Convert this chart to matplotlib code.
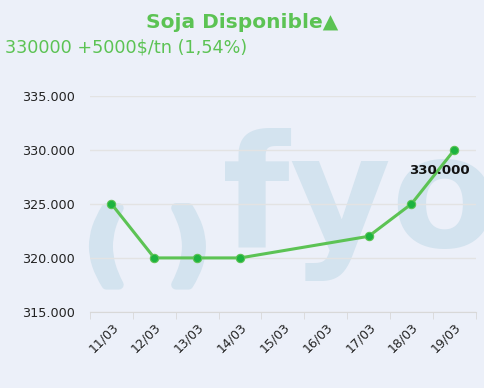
import matplotlib
matplotlib.use("Agg")
import matplotlib.pyplot as plt
import matplotlib.patheffects as pe
from matplotlib.ticker import FuncFormatter, FixedLocator

labels = ["11/03", "12/03", "13/03", "14/03", "15/03", "16/03", "17/03", "18/03", "19/03"]
day_idx = [0, 1, 2, 3, 6, 7, 8]
values = [325000, 320000, 320000, 320000, 322000, 325000, 330000]
title = "Soja Disponible\u25b2"
subtitle = "330000 +5000$/tn (1,54%)"

bg = "#ecf0f9"
green_line = "#5cc354"
green_pt = "#1db33f"
title_col = "#5cc354"

fig = plt.figure(figsize=(4.84, 3.88), dpi=100, facecolor=bg)
ax = fig.add_axes([0.186, 0.196, 0.797, 0.557])
ax.set_facecolor("none")
ax.set_zorder(1)

# watermark (behind axes)
wm = "#d3e3ef"
thick = [pe.withStroke(linewidth=7, foreground=wm)]
fig.text(0.219, 0.356, "(", fontsize=62, fontweight="bold", color=wm, ha="center", va="center",
         zorder=-5, path_effects=thick)
fig.text(0.39, 0.356, ")", fontsize=62, fontweight="bold", color=wm, ha="center", va="center",
         zorder=-5, path_effects=thick)
fig.text(0.458, 0.3634, "fyo", fontsize=112, fontweight="bold", color=wm, ha="left", va="baseline",
         zorder=-5, clip_on=True)

ax.plot(day_idx, values, color=green_line, lw=2.2, zorder=3)
ax.scatter(day_idx, values, s=36, color=green_pt, edgecolor=green_line, linewidth=0.8, zorder=4)

ax.set_xlim(-0.5, 8.5)
ax.set_ylim(315000, 335000)
ax.set_yticks([315000, 320000, 325000, 330000, 335000])
ax.yaxis.set_major_formatter(FuncFormatter(lambda v, p: f"{int(v):,}".replace(",", ".")))
ax.set_xticks(range(len(labels)))
ax.set_xticklabels(labels, rotation=45, ha="right", rotation_mode="anchor")
ax.xaxis.set_minor_locator(FixedLocator([i - 0.5 for i in range(len(labels) + 1)]))
ax.tick_params(axis="x", which="major", length=0, pad=6, labelsize=9, colors="#222222")
ax.tick_params(axis="x", which="minor", length=5, color="#d8d8d8")
ax.tick_params(axis="y", length=0, pad=11, labelsize=9.2, colors="#222222")
ax.grid(axis="y", color="#e3e3e3", lw=1)
for s in ["top", "right", "left"]:
    ax.spines[s].set_visible(False)
ax.spines["bottom"].set_color("#d8d8d8")
ax.set_axisbelow(True)

ax.annotate(f"{values[-1]:,}".replace(",", "."), (day_idx[-1], values[-1]),
            xytext=(-11, -14.5), textcoords="offset points", ha="center", va="center",
            fontsize=9.5, fontweight="bold", color="#111111", zorder=5)

fig.text(0.5, 0.943, title, ha="center", va="center", fontsize=14.5, fontweight="bold", color=title_col)
fig.text(0.01, 0.878, subtitle, ha="left", va="center", fontsize=12.7, color=title_col)

fig.savefig("out.png", dpi=100, facecolor=bg)
